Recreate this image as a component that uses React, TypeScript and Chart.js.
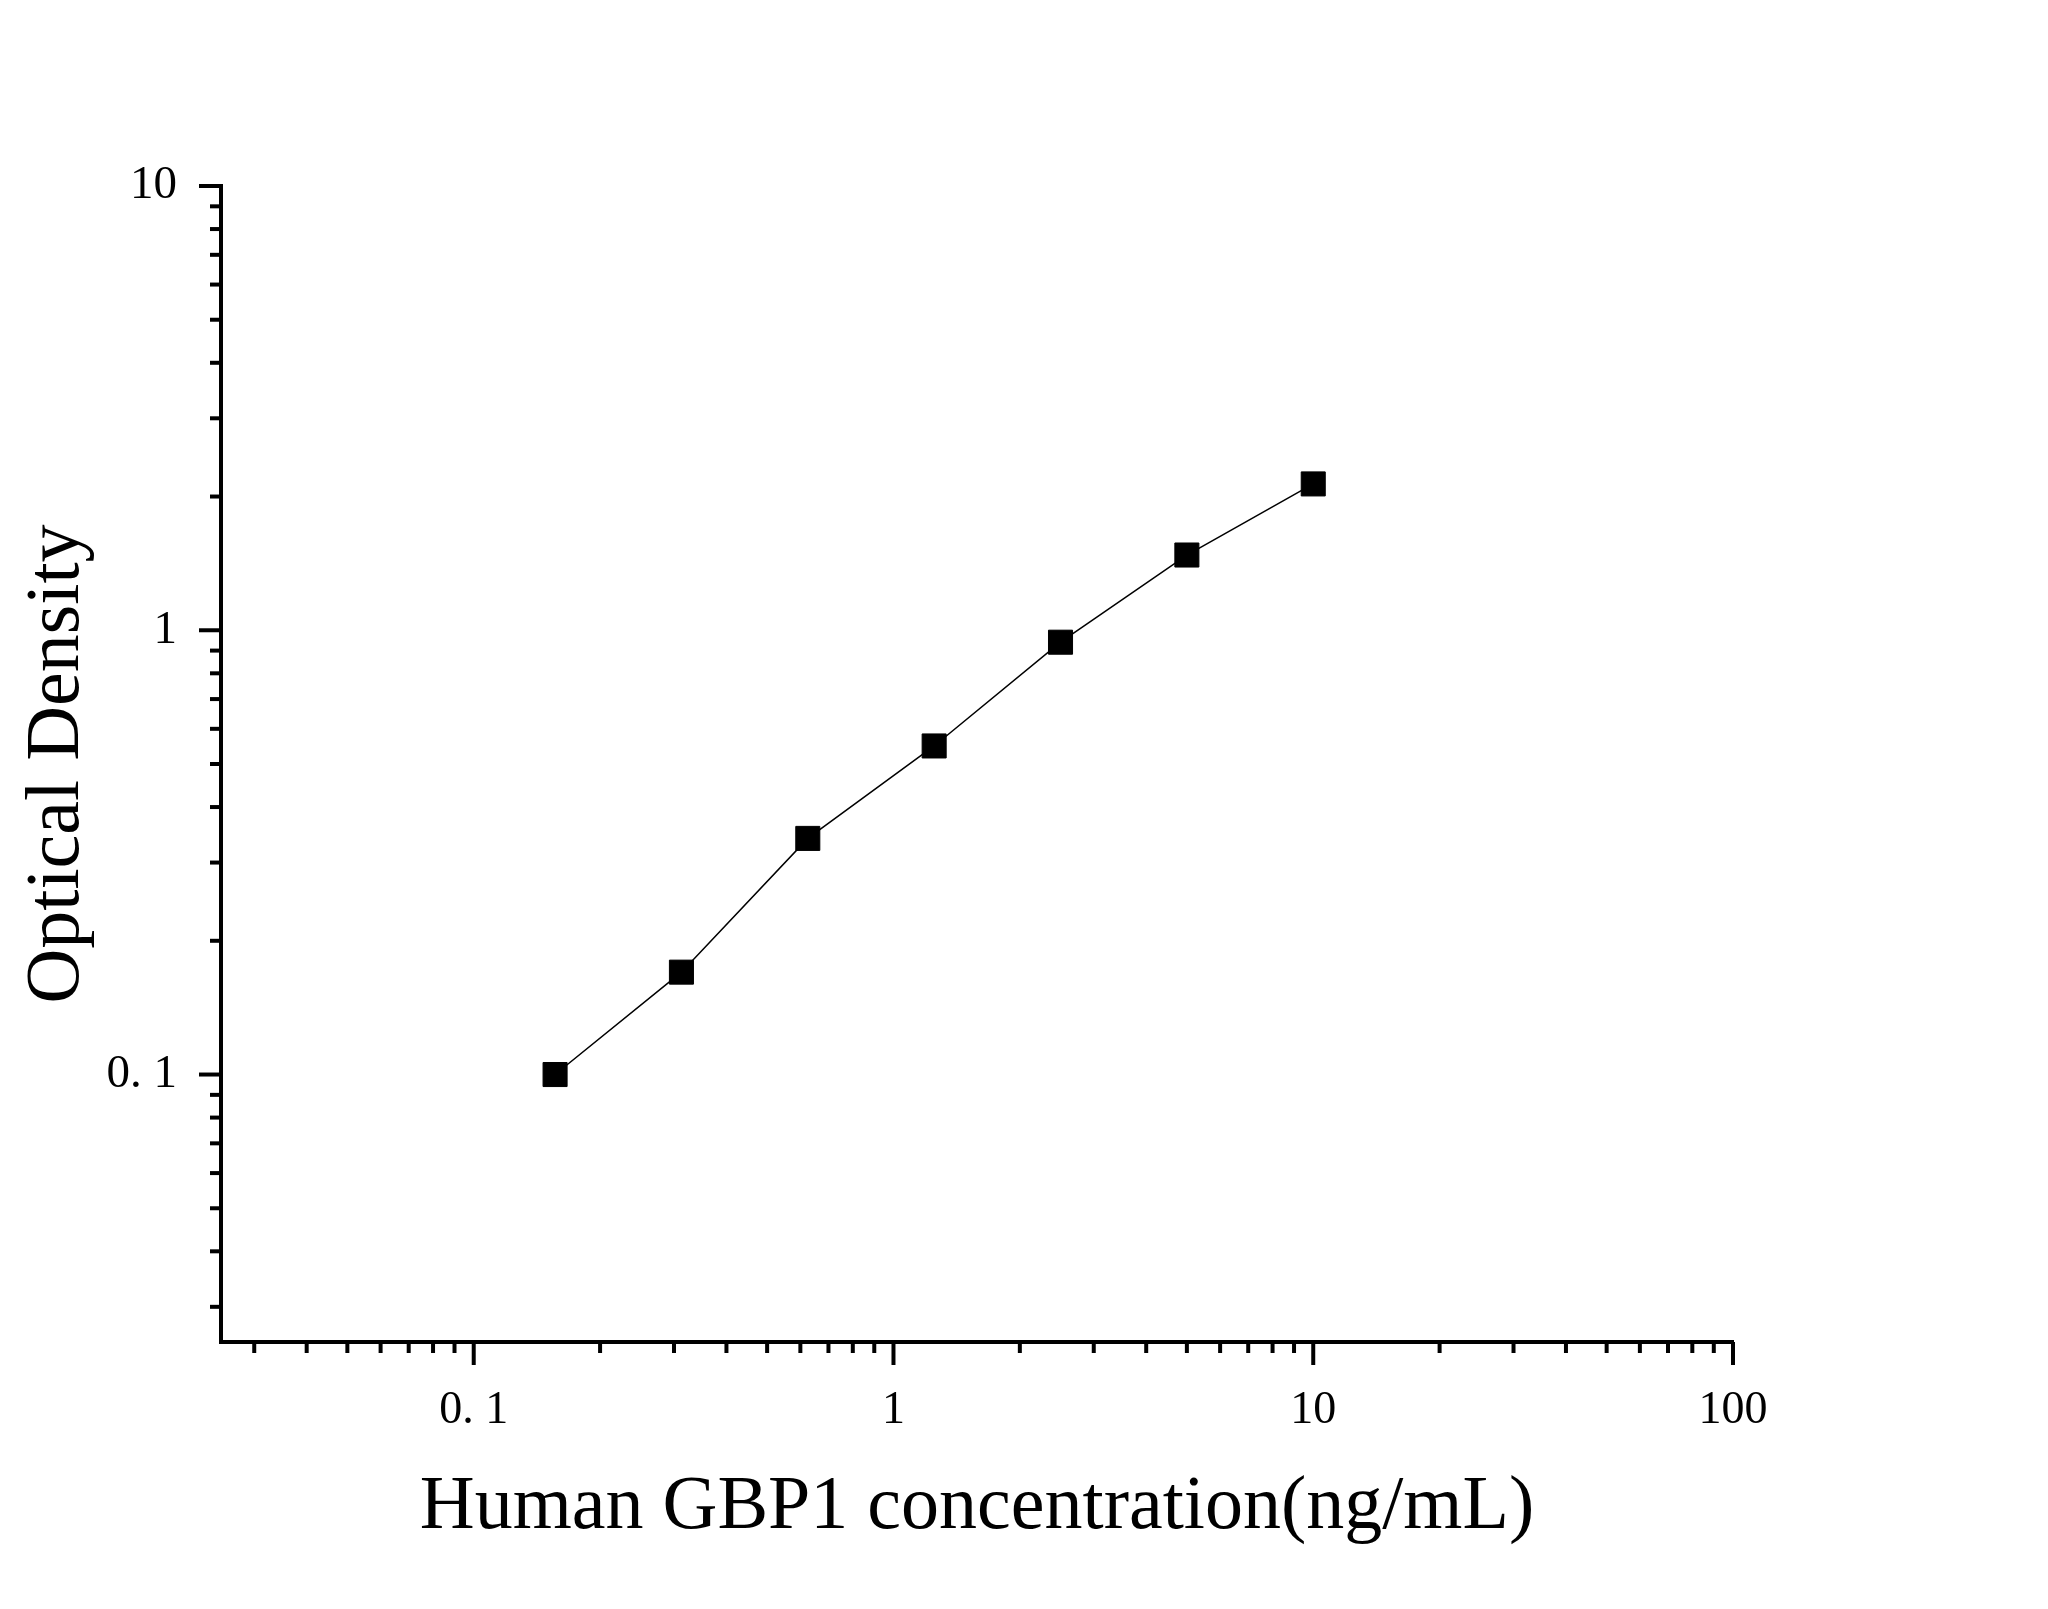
import React, { useEffect, useRef } from 'react';
import { Chart, registerables, ChartConfiguration, Plugin } from 'chart.js';

Chart.register(...registerables);

// standard curve: concentration (ng/mL) vs optical density
const concentrations = [0.15625, 0.3125, 0.625, 1.25, 2.5, 5, 10];
const opticalDensity = [0.1, 0.17, 0.34, 0.549, 0.94, 1.477, 2.135];

// axis ticks
const xMajorTicks = [0.1, 1, 10, 100];
const xMajorLabels = ['0. 1', '1', '10', '100'];
const xDecades = [0.01, 0.1, 1, 10];
const yMajorTicks = [0.1, 1, 10];
const yMajorLabels = ['0. 1', '1', '10'];
const yDecades = [0.01, 0.1, 1];
const minorSteps = [2, 3, 4, 5, 6, 7, 8, 9];
const axisMin = 0.025;

const FONT = "'Liberation Serif', 'Times New Roman', serif";

const buildTicks = (decades: number[], majors: number[]) => {
  const values = [...majors];
  decades.forEach((d) =>
    minorSteps.forEach((s) => {
      const v = +(d * s).toPrecision(3);
      if (v > axisMin) values.push(v);
    })
  );
  return values.sort((a, b) => a - b).map((value) => ({ value, major: majors.includes(value) }));
};

const labelFor = (majors: number[], labels: string[]) => (value: number | string) => {
  const i = majors.indexOf(Number(value));
  return i >= 0 ? labels[i] : '';
};

// draws long major / short minor tick marks outside the axes
const axisTicks: Plugin = {
  id: 'axisTicks',
  afterDraw(chart) {
    const { ctx, chartArea, scales } = chart;
    ctx.save();
    ctx.strokeStyle = '#000';
    ctx.lineWidth = 4;
    ctx.lineCap = 'butt';
    scales.x.ticks.forEach((t) => {
      const px = scales.x.getPixelForValue(t.value);
      const len = t.major ? 23 : 11;
      ctx.beginPath();
      ctx.moveTo(px, chartArea.bottom);
      ctx.lineTo(px, chartArea.bottom + len);
      ctx.stroke();
    });
    scales.y.ticks.forEach((t) => {
      const py = scales.y.getPixelForValue(t.value);
      const len = t.major ? 22 : 11;
      ctx.beginPath();
      ctx.moveTo(chartArea.left, py);
      ctx.lineTo(chartArea.left - len, py);
      ctx.stroke();
    });
    ctx.restore();
  },
};

const App: React.FC = () => {
  const chartRef = useRef<HTMLCanvasElement>(null);
  const chartInstanceRef = useRef<Chart | null>(null);

  useEffect(() => {
    if (!chartRef.current) return;
    const ctx = chartRef.current.getContext('2d');
    if (!ctx) return;

    if (chartInstanceRef.current) {
      chartInstanceRef.current.destroy();
    }

    const points = concentrations.map((x, i) => ({ x, y: opticalDensity[i] }));

    const config: ChartConfiguration<'scatter'> = {
      type: 'scatter',
      data: {
        datasets: [
          {
            data: points,
            showLine: true,
            borderColor: '#000',
            borderWidth: 1.5,
            backgroundColor: '#000',
            tension: 0,
            pointStyle: 'rect',
            pointRadius: 17,
            pointBorderWidth: 1,
            pointBorderColor: '#000',
            pointBackgroundColor: '#000',
          },
        ],
      },
      options: {
        responsive: true,
        maintainAspectRatio: false,
        devicePixelRatio: 1,
        animation: false,
        layout: {
          padding: { top: 186, right: 315, left: 0, bottom: 0 },
        },
        plugins: {
          legend: { display: false },
          tooltip: { enabled: false },
        },
        scales: {
          x: {
            type: 'logarithmic',
            min: axisMin,
            max: 100,
            afterBuildTicks: (axis) => {
              axis.ticks = buildTicks(xDecades, xMajorTicks);
            },
            afterFit: (axis) => {
              axis.height = 267;
            },
            border: { display: true, width: 4, color: '#000' },
            grid: {
              display: true,
              drawOnChartArea: false,
              drawTicks: true,
              tickLength: 22,
              tickColor: 'rgba(0,0,0,0)',
              color: 'rgba(0,0,0,0)',
            },
            ticks: {
              autoSkip: false,
              maxRotation: 0,
              padding: 19,
              color: '#000',
              font: { family: FONT, size: 46 },
              callback: labelFor(xMajorTicks, xMajorLabels),
            },
            title: {
              display: true,
              text: 'Human GBP1 concentration(ng/mL)',
              color: '#000',
              font: { family: FONT, size: 76 },
              padding: { top: 0, bottom: 55 },
            },
          },
          y: {
            type: 'logarithmic',
            min: axisMin,
            max: 10,
            afterBuildTicks: (axis) => {
              axis.ticks = buildTicks(yDecades, yMajorTicks);
            },
            afterFit: (axis) => {
              axis.width = 221;
            },
            border: { display: true, width: 4, color: '#000' },
            grid: {
              display: true,
              drawOnChartArea: false,
              drawTicks: true,
              tickLength: 22,
              tickColor: 'rgba(0,0,0,0)',
              color: 'rgba(0,0,0,0)',
            },
            ticks: {
              autoSkip: false,
              padding: 22,
              color: '#000',
              font: { family: FONT, size: 47 },
              callback: labelFor(yMajorTicks, yMajorLabels),
            },
            title: {
              display: true,
              text: 'Optical Density',
              color: '#000',
              font: { family: FONT, size: 76 },
              padding: { top: 12, bottom: 0 },
            },
          },
        },
      },
      plugins: [axisTicks],
    };

    chartInstanceRef.current = new Chart(ctx, config);

    return () => {
      if (chartInstanceRef.current) {
        chartInstanceRef.current.destroy();
        chartInstanceRef.current = null;
      }
    };
  }, []);

  return (
    <div style={{ position: 'absolute', left: 0, top: 0, width: 2048, height: 1609, background: '#fff' }}>
      <canvas ref={chartRef}></canvas>
    </div>
  );
};

export default App;
